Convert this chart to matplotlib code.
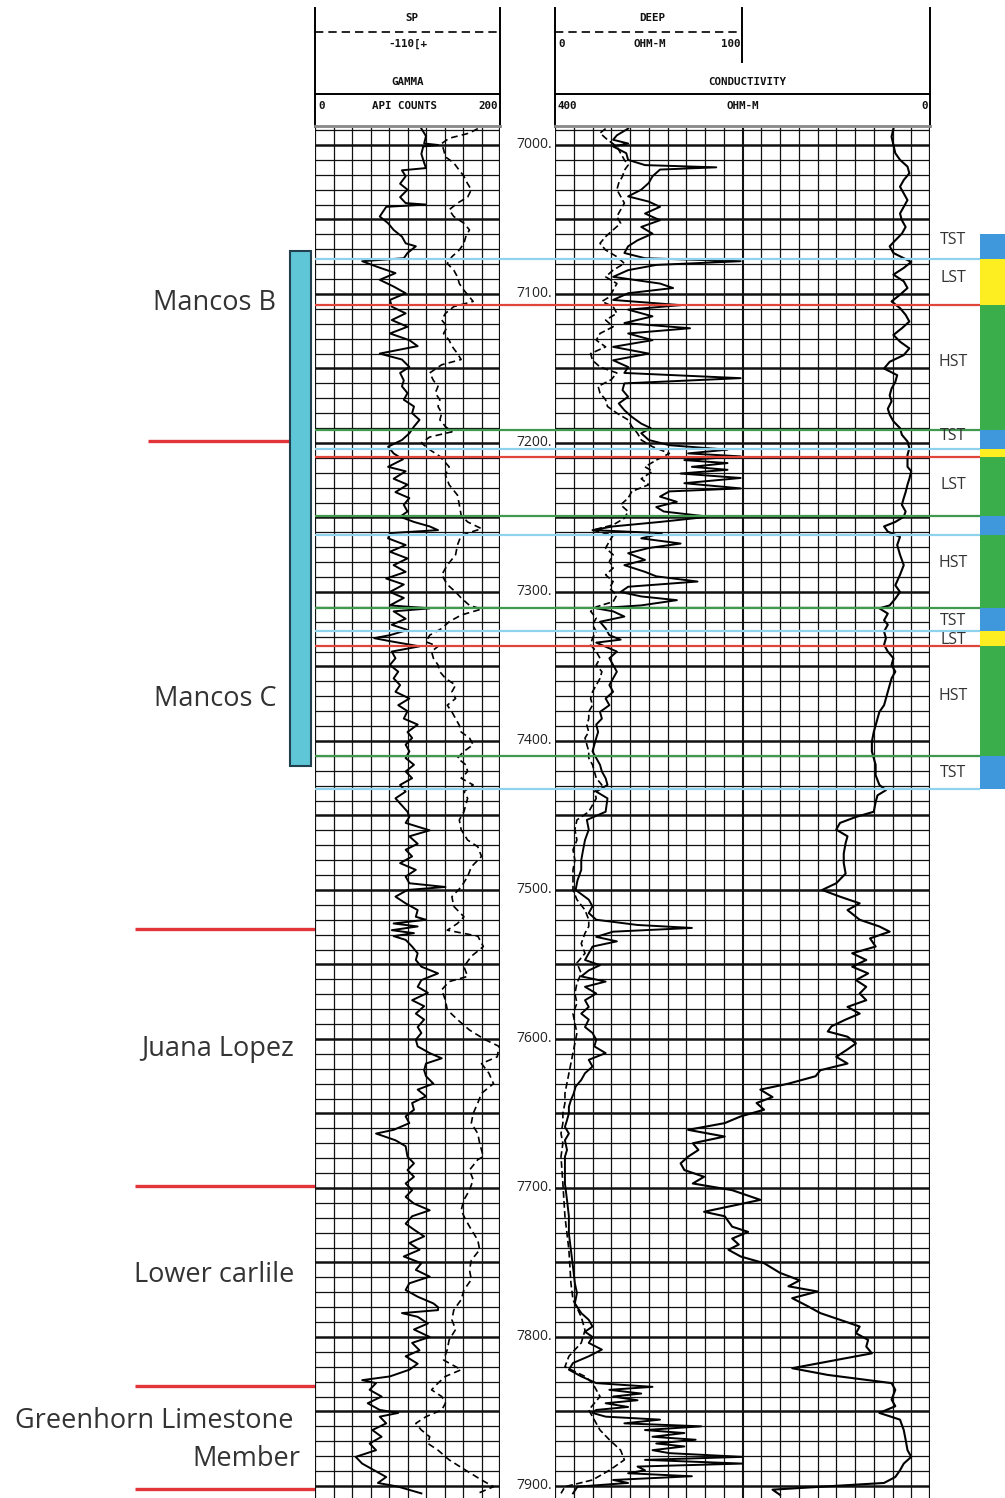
import numpy as np
import matplotlib.pyplot as plt

plt.rcParams['font.family'] = ['Open Sans', 'DejaVu Sans']

W, H = 1005, 1498
D_TOP, D_BOT = 6988.6, 7908.1

# ---- log curves (depth ft, value) ----
gamma = [(6989, 115), (6994, 120), (6999, 118), (7000, 133), (7001, 117), (7006, 115), (7012, 118),
         (7015.5, 120), (7017, 94), (7021, 98), (7026, 92), (7030, 100), (7035, 92), (7039, 98),
         (7040, 120), (7041.5, 77), (7048, 70), (7052.5, 79), (7057, 85), (7061.5, 94), (7066, 98),
         (7068, 109), (7072.5, 100), (7076, 96), (7078, 51), (7081.5, 66), (7086, 87), (7090.5, 70),
         (7095, 85), (7099.5, 98), (7104, 81), (7108.5, 83), (7113, 98), (7117.5, 83), (7122, 100),
         (7126.5, 81), (7131, 102), (7135, 111), (7140, 70), (7144, 94), (7149, 102), (7153, 92),
         (7158, 96), (7162, 94), (7166.5, 100), (7171, 96), (7175.5, 107), (7180, 105), (7184.5, 113),
         (7189, 107), (7193.5, 102), (7198, 94), (7202.5, 79), (7207, 85), (7211, 95), (7216, 79),
         (7219, 98), (7224, 85), (7228, 100), (7233, 87), (7237, 102), (7241.5, 96), (7246, 100),
         (7249.5, 92), (7253, 107), (7256, 124), (7258.5, 133), (7260.5, 81), (7264, 79), (7268.5, 98),
         (7273, 81), (7277.5, 100), (7282, 85), (7286.5, 98), (7291, 77), (7295, 96), (7300, 81),
         (7304, 96), (7309, 81), (7311, 124), (7313, 85), (7318, 98), (7322, 83), (7325.5, 100),
         (7329, 81), (7331, 64), (7333, 81), (7336.5, 113), (7340, 83), (7344.5, 87), (7349, 81),
         (7353.5, 90), (7358, 85), (7362.5, 92), (7367, 87), (7371.5, 102), (7376, 90), (7380, 100),
         (7385, 96), (7389, 111), (7394, 100), (7398, 105), (7402.5, 98), (7407, 102), (7411.5, 98),
         (7416, 107), (7420.5, 98), (7425, 105), (7429.5, 92), (7434, 98), (7438.5, 87), (7447.5, 100),
         (7451, 102), (7455, 98), (7460, 124), (7464, 102), (7469, 111), (7473, 98), (7477.5, 105),
         (7482, 92), (7486.5, 109), (7491, 98), (7495.5, 102), (7498, 141), (7500, 100), (7504.5, 87),
         (7509, 98), (7513.5, 111), (7518, 109), (7520, 120), (7522.5, 85), (7524.5, 111), (7527, 83),
         (7529, 107), (7531, 85), (7533.5, 98), (7538, 105), (7542.5, 111), (7547, 109), (7551.5, 115),
         (7556, 133), (7560.5, 115), (7565, 111), (7569, 122), (7574, 105), (7578, 118), (7583, 109),
         (7587, 118), (7592, 111), (7596, 115), (7600.5, 109), (7605, 111), (7609.5, 124), (7613, 137),
         (7616.5, 120), (7621, 118), (7625, 120), (7630, 128), (7634, 111), (7638.5, 120), (7643, 105),
         (7647.5, 107), (7652, 98), (7656.5, 102), (7661, 85), (7663.5, 66), (7668, 87), (7672, 98),
         (7679, 100), (7683.5, 107), (7688, 100), (7692.5, 107), (7697, 98), (7701.5, 105), (7706, 98),
         (7710.5, 107), (7715, 124), (7719, 105), (7724, 98), (7728, 107), (7732.5, 118), (7737, 102),
         (7741.5, 113), (7746, 96), (7750.5, 115), (7755, 109), (7759.5, 124), (7764, 102), (7768.5, 98),
         (7773, 111), (7777.5, 128), (7780, 133), (7782, 133), (7784, 94), (7786.5, 111), (7791, 122),
         (7795, 107), (7800, 124), (7804, 105), (7809, 113), (7813, 98), (7818, 111), (7822, 102),
         (7826.5, 81), (7829, 51), (7831, 66), (7835.5, 59), (7840, 72), (7844.5, 57), (7849, 70),
         (7851, 90), (7853.5, 70), (7858, 77), (7862.5, 62), (7867, 72), (7871.5, 59), (7876, 66),
         (7880.5, 44), (7885, 51), (7889.5, 64), (7894, 77), (7898, 68), (7900.5, 90), (7905, 115)]

sp = [(6989, 176), (6992, 167), (6995.5, 145), (6999, 137), (7003, 139), (7008, 141), (7012, 150),
      (7017, 156), (7021, 161), (7026, 165), (7030, 169), (7035, 165), (7039, 154), (7043.5, 145),
      (7048, 150), (7052.5, 161), (7057, 167), (7061.5, 163), (7066, 161), (7070.5, 156), (7075, 148),
      (7079.5, 143), (7084, 150), (7088.5, 154), (7093, 156), (7097.5, 161), (7102, 167), (7105, 171),
      (7108.5, 150), (7113, 141), (7117.5, 137), (7122, 143), (7126.5, 139), (7131, 145), (7135, 148),
      (7140, 154), (7144, 158), (7147.5, 137), (7153, 124), (7158, 128), (7162, 133), (7166.5, 130),
      (7171, 135), (7175.5, 133), (7180, 137), (7184.5, 135), (7189, 141), (7192.5, 148), (7196, 124),
      (7200, 115), (7204.5, 124), (7209, 135), (7216, 145), (7221.5, 141), (7228, 145), (7235, 154),
      (7241.5, 156), (7248.5, 158), (7253, 165), (7257.5, 180), (7262, 158), (7268.5, 154), (7275, 152),
      (7282, 143), (7288.5, 137), (7295, 143), (7300, 152), (7304, 158), (7309, 167), (7311.5, 180),
      (7315.5, 158), (7320, 145), (7324.5, 137), (7329, 124), (7333.5, 120), (7336.5, 133), (7340, 126),
      (7344.5, 128), (7349, 133), (7353.5, 135), (7358, 141), (7362.5, 152), (7367, 148), (7371.5, 152),
      (7376, 143), (7380.5, 148), (7385, 152), (7389.5, 156), (7394, 158), (7398, 167), (7402.5, 171),
      (7407, 161), (7411.5, 154), (7416, 163), (7420.5, 165), (7425, 158), (7429.5, 171), (7434, 161),
      (7438.5, 165), (7447.5, 161), (7453, 156), (7459.5, 158), (7466.5, 165), (7471, 176), (7477.5, 180),
      (7484.5, 169), (7491, 165), (7498, 158), (7504.5, 148), (7511, 150), (7518, 161), (7522.5, 154),
      (7527, 143), (7531, 176), (7538, 182), (7544.5, 169), (7551.5, 161), (7558, 165), (7561.5, 145),
      (7567, 137), (7574, 141), (7580.5, 143), (7587, 154), (7594, 167), (7600.5, 184), (7605, 199),
      (7612, 197), (7616.5, 180), (7623, 188), (7630, 193), (7636.5, 180), (7643, 176), (7650, 171),
      (7656.5, 169), (7663.5, 176), (7670, 178), (7679, 182), (7681, 176), (7688, 167), (7694.5, 171),
      (7701.5, 167), (7708, 161), (7715, 158), (7721.5, 163), (7728, 169), (7735, 176), (7741.5, 178),
      (7748.5, 169), (7755, 167), (7761.5, 169), (7768.5, 161), (7775, 158), (7782, 150), (7788.5, 148),
      (7795, 152), (7802, 145), (7808.5, 143), (7815.5, 139), (7822, 158), (7826.5, 141), (7831, 133),
      (7835.5, 126), (7840, 137), (7844.5, 141), (7849, 137), (7853.5, 120), (7858, 109), (7862.5, 115),
      (7867, 124), (7871.5, 122), (7876, 133), (7882.5, 145), (7889.5, 163), (7896, 180), (7900.5, 193),
      (7905, 176)]

deep = [(6989, 39), (6993.5, 33), (6996.5, 31), (6999, 39), (7001, 31), (7005.5, 38), (7010, 39),
        (7013.5, 48), (7015, 86), (7016.5, 56), (7021, 52), (7025.5, 50), (7030, 46), (7034.5, 39),
        (7038, 50), (7041.5, 56), (7046, 48), (7050.5, 56), (7055, 46), (7059.5, 52), (7064, 44),
        (7068, 39), (7072.5, 37), (7076, 48), (7078, 99), (7080.5, 54), (7084, 39), (7088.5, 31),
        (7093, 56), (7096, 63), (7099.5, 39), (7104, 31), (7107.5, 67), (7110.5, 39), (7115, 52),
        (7119.5, 37), (7123, 72), (7126.5, 39), (7131, 52), (7135.5, 31), (7140, 50), (7144.5, 31),
        (7149, 39), (7153, 37), (7156.5, 99), (7160, 37), (7164.5, 36), (7169, 39), (7173.5, 34),
        (7178, 37), (7182.5, 41), (7187, 46), (7190, 51), (7193.5, 46), (7198, 50), (7201.5, 61),
        (7204.5, 92), (7207, 71), (7209, 99), (7211.5, 69), (7213.5, 92), (7216, 73), (7218, 92),
        (7220.5, 67), (7223.5, 99), (7227, 69), (7230.5, 99), (7232.5, 61), (7236, 56), (7239.5, 65),
        (7243, 54), (7246, 58), (7249.5, 82), (7253, 56), (7256, 31), (7258.5, 20), (7260.5, 57),
        (7264, 46), (7267.5, 67), (7270.5, 50), (7274, 39), (7278.5, 48), (7282, 37), (7286.5, 48),
        (7289.5, 54), (7293, 76), (7296.5, 39), (7300, 35), (7303, 46), (7305.5, 65), (7309, 46),
        (7311, 22), (7313, 31), (7316.5, 37), (7320, 24), (7324.5, 27), (7329, 29), (7332, 35),
        (7334, 22), (7340, 33), (7344.5, 29), (7349, 31), (7353.5, 33), (7358, 31), (7362.5, 29),
        (7367, 31), (7371.5, 27), (7376, 29), (7380.5, 24), (7385, 25), (7389, 22), (7394, 23),
        (7398, 22), (7402.5, 21), (7407, 20), (7411.5, 22), (7416, 24), (7420.5, 25), (7425, 27),
        (7429.5, 28), (7434, 22), (7438.5, 28), (7447.5, 27), (7453, 17), (7459.5, 18), (7466.5, 16),
        (7473, 15), (7480, 14), (7486.5, 14), (7493.5, 12), (7500, 11), (7506.5, 18), (7511, 20),
        (7515.5, 18), (7520, 22), (7523.5, 44), (7525.5, 73), (7528, 31), (7531.5, 22), (7534.5, 33),
        (7538, 20), (7542.5, 18), (7547, 16), (7550.5, 24), (7554, 18), (7558, 14), (7561.5, 27),
        (7565, 16), (7569.5, 22), (7574, 16), (7578.5, 18), (7583, 14), (7587, 18), (7592, 16),
        (7596, 20), (7600.5, 22), (7605, 21), (7609.5, 27), (7614, 18), (7618.5, 20), (7623, 16),
        (7627.5, 14), (7632, 11), (7636.5, 10), (7641, 8.5), (7645.5, 7.4), (7650, 7.4), (7654.5, 6.4),
        (7659, 5.3), (7663.5, 7.4), (7668, 5.3), (7674.5, 6.4), (7679, 5.3), (7685.5, 5.3), (7697, 5.3),
        (7708, 6.4), (7719, 7.4), (7730.5, 7.4), (7741.5, 8.5), (7753, 9.6), (7764, 10.6), (7770.5, 11.7),
        (7777.5, 10.6), (7784, 14), (7788.5, 18), (7793, 20), (7796.5, 16), (7800, 20), (7804, 18),
        (7808.5, 25), (7813, 18), (7817.5, 9.6), (7822, 7.4), (7826.5, 14), (7831, 22), (7833.5, 52),
        (7835.5, 29), (7838, 46), (7840, 31), (7842.5, 44), (7844.5, 27), (7847, 39), (7849, 22),
        (7851, 20), (7853.5, 27), (7855.5, 56), (7858, 37), (7860, 78), (7862.5, 48), (7864.5, 69),
        (7867, 52), (7869, 75), (7871.5, 54), (7873.5, 69), (7876, 52), (7878, 61), (7880.5, 100),
        (7882.5, 48), (7885, 100), (7887, 44), (7889.5, 48), (7891.5, 39), (7893.5, 73), (7896, 31),
        (7898, 39), (7900.5, 12), (7905, 9.6)]

shallow = [(6989, 27), (6992, 24), (6996.5, 28), (7001, 33), (7005.5, 35), (7010, 37), (7013.5, 39),
           (7017, 37), (7021, 36), (7025.5, 34), (7030, 33), (7034.5, 35), (7039, 37), (7043.5, 35),
           (7048, 33), (7052.5, 35), (7057, 31), (7061.5, 27), (7066, 24), (7070.5, 27), (7075, 33),
           (7079.5, 37), (7084, 31), (7088.5, 27), (7093, 33), (7097.5, 31), (7102, 29), (7105, 25),
           (7108.5, 31), (7113, 33), (7117.5, 27), (7122, 31), (7126.5, 24), (7131, 22), (7135.5, 27),
           (7140, 19), (7144.5, 20), (7149, 24), (7153, 33), (7157.5, 30), (7162, 23), (7166.5, 24),
           (7171, 27), (7175.5, 28), (7180, 33), (7184.5, 39), (7189, 41), (7193.5, 44), (7198, 46),
           (7202.5, 52), (7207, 61), (7211.5, 54), (7216, 48), (7219, 52), (7224, 46), (7228, 50),
           (7232.5, 41), (7237, 39), (7241.5, 35), (7246, 39), (7250.5, 37), (7255, 31), (7258.5, 20),
           (7262, 31), (7266, 29), (7270.5, 27), (7275, 31), (7279.5, 29), (7284, 31), (7288.5, 27),
           (7293, 31), (7297.5, 29), (7302, 33), (7306.5, 31), (7310, 22), (7313, 19), (7317.5, 22),
           (7322, 20), (7326.5, 22), (7331, 20), (7335.5, 19), (7340, 22), (7344.5, 24), (7349, 22),
           (7353.5, 25), (7358, 24), (7362.5, 22), (7367, 20), (7371.5, 19), (7376, 20), (7380.5, 18),
           (7385, 18), (7389.5, 17), (7394, 18), (7398, 16), (7402.5, 17), (7407, 18), (7411.5, 18),
           (7416, 20), (7420.5, 21), (7425, 22), (7429.5, 25), (7434, 21), (7438.5, 22), (7447.5, 18),
           (7453, 11.7), (7459.5, 10.6), (7466.5, 11.7), (7473, 9.6), (7480, 10.6), (7486.5, 9.6),
           (7493.5, 9.6), (7500, 9.6), (7506.5, 11.7), (7513.5, 16), (7520, 18), (7524.5, 18), (7529, 16),
           (7536, 14), (7542.5, 16), (7549, 11.7), (7556, 14), (7562.5, 11.7), (7569.5, 10.6), (7576, 11.7),
           (7583, 9.6), (7589.5, 10.6), (7596, 11.7), (7603, 10.6), (7609.5, 9.6), (7616.5, 8.5),
           (7623, 7.4), (7629.5, 6.4), (7636.5, 5.3), (7643, 5.3), (7650, 4.2), (7656.5, 4.2), (7663.5, 3.2),
           (7670, 4.2), (7679, 3.2), (7697, 4.2), (7719, 5.3), (7741.5, 7.4), (7764, 8.5), (7775, 9.6),
           (7786.5, 14), (7795.5, 16), (7804, 14), (7813, 7.4), (7820, 5.3), (7826.5, 16), (7831, 20),
           (7840, 24), (7849, 18), (7853.5, 20), (7862.5, 24), (7869, 29), (7876, 35), (7882.5, 37),
           (7889.5, 29), (7896, 20), (7900.5, 5.3), (7905, 3.2)]

conductivity = [(6989, 39), (6994.5, 41), (7000, 39), (7005.5, 37), (7010, 32), (7014.5, 24), (7019, 22),
                (7023.5, 28), (7028, 32), (7032.5, 28), (7037, 24), (7041.5, 28), (7046, 32), (7050.5, 30),
                (7055, 26), (7059.5, 30), (7064, 37), (7068, 43), (7072.5, 39), (7076, 28), (7078.5, 20),
                (7082.5, 28), (7087, 39), (7091.5, 28), (7096, 24), (7100.5, 32), (7105, 41), (7109.5, 32),
                (7114, 26), (7118.5, 22), (7123, 30), (7127.5, 39), (7132, 32), (7136.5, 22), (7141, 28),
                (7145.5, 43), (7150, 49), (7154.5, 35), (7159, 37), (7163.5, 41), (7168, 43), (7172, 41),
                (7177, 45), (7181, 43), (7185.5, 39), (7190, 32), (7194.5, 30), (7199, 24), (7203.5, 22),
                (7208, 24), (7216, 24), (7219, 20), (7224, 22), (7228, 24), (7233, 26), (7237, 28),
                (7241.5, 30), (7246, 26), (7249.5, 28), (7253, 37), (7256, 49), (7259.5, 45), (7263, 32),
                (7268.5, 35), (7275, 32), (7282, 28), (7288.5, 32), (7295.5, 37), (7300, 32), (7304.5, 37),
                (7309, 43), (7311, 54), (7314.5, 45), (7319, 49), (7322, 45), (7326.5, 49), (7331, 47),
                (7335.5, 49), (7340, 45), (7344.5, 39), (7349, 41), (7353.5, 37), (7358, 41), (7362.5, 43),
                (7367, 45), (7371.5, 47), (7376, 49), (7380.5, 54), (7385, 56), (7389.5, 58), (7394, 60),
                (7400.5, 62), (7407, 62), (7411.5, 60), (7416, 58), (7423, 58), (7429.5, 54), (7433, 47),
                (7436.5, 56), (7441, 58), (7447.5, 60), (7451, 79), (7455, 96), (7459.5, 100), (7464, 88),
                (7468.5, 90), (7475.5, 92), (7482, 92), (7489, 90), (7495.5, 100), (7500, 115), (7504.5, 96),
                (7509, 75), (7513.5, 88), (7520, 75), (7524.5, 54), (7528, 43), (7532.5, 64), (7538, 58),
                (7542.5, 83), (7547, 68), (7551.5, 83), (7556, 66), (7560.5, 79), (7565, 68), (7569.5, 75),
                (7574, 68), (7578.5, 88), (7583, 75), (7587, 90), (7591.5, 105), (7595, 109), (7598.5, 88),
                (7603, 79), (7607, 88), (7612, 100), (7616.5, 88), (7621, 117), (7625, 122), (7630, 151),
                (7634, 181), (7639, 168), (7643, 185), (7647.5, 177), (7652, 202), (7656.5, 219), (7661, 258),
                (7663.5, 236), (7665.5, 219), (7670, 253), (7674.5, 247), (7679, 258), (7683.5, 266),
                (7688, 262), (7692.5, 241), (7697, 253), (7701.5, 211), (7708, 181), (7712.5, 215),
                (7716, 241), (7719, 219), (7726, 211), (7729.5, 194), (7734, 211), (7738, 204), (7741.5, 215),
                (7746, 202), (7750.5, 177), (7757, 160), (7762, 139), (7766, 151), (7769.5, 120), (7774, 147),
                (7779.5, 130), (7784, 117), (7788.5, 96), (7793, 75), (7797.5, 79), (7802, 66), (7806.5, 68),
                (7811, 62), (7815.5, 100), (7821, 147), (7825.5, 109), (7831, 41), (7835.5, 37), (7842, 41),
                (7846.5, 37), (7851, 54), (7855.5, 32), (7862.5, 28), (7869, 26), (7876, 24), (7880.5, 20),
                (7885, 28), (7889.5, 32), (7894, 37), (7898, 49), (7902.5, 168), (7906, 160)]

# ---- interpretation ----
surface_depth = [7076.5, 7107.4, 7191.3, 7204.0, 7209.4, 7249.0, 7261.7, 7310.7, 7326.2, 7336.2, 7410.1, 7432.2]
surface_kind = ['ts', 'sb', 'mfs', 'ts', 'sb', 'mfs', 'ts', 'mfs', 'ts', 'sb', 'mfs', 'ts']

seq_top = [7059.7, 7076.5, 7107.4, 7191.3, 7204.0, 7209.4, 7249.0, 7261.7, 7310.7, 7326.2, 7336.2, 7410.1]
seq_base = [7076.5, 7107.4, 7191.3, 7204.0, 7209.4, 7249.0, 7261.7, 7310.7, 7326.2, 7336.2, 7410.1, 7432.2]
seq_fill = ['TST', 'LST', 'HST', 'TST', 'LST', 'HST', 'TST', 'HST', 'TST', 'LST', 'HST', 'TST']
seq_names = ['TST', 'LST', 'HST', 'TST', 'LST', 'HST', 'TST', 'LST', 'HST', 'TST']
seq_name_depth = [7063.8, 7089.3, 7145.6, 7195.3, 7228.2, 7280.5, 7319.5, 7332.2, 7369.8, 7421.5]

formation_tops = [7198.7, 7526.2, 7698.7, 7832.9, 7902.0]
formation_names = ['Mancos B', 'Mancos C', 'Juana Lopez', 'Lower carlile', 'Greenhorn Limestone', 'Member']
formation_name_depth = [7106, 7371.8, 7606.7, 7758.4, 7856.4, 7881.9]
mancos_top, mancos_base = 7071.1, 7416.8

line_col = {'ts': '#8fd2ee', 'sb': '#e0453c', 'mfs': '#3f9a4f'}
fill_col = {'TST': '#3f97dc', 'LST': '#fdee21', 'HST': '#3aae4a'}


def rect(x0, y0, x1, y1):
    return [x0 / W, 1 - y1 / H, (x1 - x0) / W, (y1 - y0) / H]


def unzip(pairs):
    a = np.array(pairs, dtype=float)
    return a[:, 0], a[:, 1]


def track_grid(ax, ncol):
    ax.set_ylim(D_BOT, D_TOP)
    for d in range(6990, 7910, 10):
        ax.axhline(d, color='#111111', lw=1.8 if d % 50 == 0 else 0.9, zorder=1)
    x0, x1 = ax.get_xlim()
    for i in range(ncol + 1):
        ax.axvline(x0 + (x1 - x0) * i / ncol, color='#111111',
                   lw=1.6 if i in (0, ncol) else (1.5 if i == ncol // 2 and ncol == 20 else 0.9), zorder=1)
    ax.set_xticks([])
    ax.set_yticks([])
    for s in ax.spines.values():
        s.set_visible(False)


fig = plt.figure(figsize=(W / 100, H / 100), dpi=100)

# left track: gamma + SP
ax_l = fig.add_axes(rect(315, 128, 500, H))
ax_l.set_xlim(0, 200)
track_grid(ax_l, 10)
d, v = unzip(gamma)
ax_l.plot(v, d, color='black', lw=1.4, zorder=3)
d, v = unzip(sp)
ax_l.plot(v, d, color='black', lw=1.2, ls=(0, (4, 2.5)), zorder=3)

# depth column
ax_d = fig.add_axes(rect(500, 128, 555, H))
ax_d.set_ylim(D_BOT, D_TOP)
ax_d.set_xlim(0, 1)
ax_d.axis('off')
for dep in range(7000, 7901, 100):
    ax_d.text(0.95, dep, f'{dep}.', ha='right', va='center', fontsize=10, color='#222222')

# right track: resistivity + conductivity
ax_r = fig.add_axes(rect(555, 128, 930, H))
ax_r.set_xlim(0, 200)
track_grid(ax_r, 20)
d, v = unzip(deep)
ax_r.plot(v, d, color='black', lw=1.4, zorder=3)
d, v = unzip(shallow)
ax_r.plot(v, d, color='black', lw=1.2, ls=(0, (4, 2)), zorder=3)
ax_c = ax_r.twiny()
ax_c.set_xlim(400, 0)
ax_c.set_ylim(D_BOT, D_TOP)
ax_c.set_axis_off()
d, v = unzip(conductivity)
ax_c.plot(v, d, color='black', lw=1.5, zorder=3)

# header
ax_h = fig.add_axes(rect(300, 0, 945, 128))
ax_h.set_xlim(300, 945)
ax_h.set_ylim(128, 0)
ax_h.axis('off')
hk = dict(color='black', lw=1.4)
for x in (315, 500, 555, 930):
    ax_h.plot([x, x], [8, 128], **hk)
ax_h.plot([742, 742], [8, 62], **hk)
ax_h.plot([315, 500], [32, 32], color='black', lw=1.2, ls=(0, (5, 3)))
ax_h.plot([555, 742], [32, 32], color='black', lw=1.2, ls=(0, (5, 3)))
ax_h.plot([315, 500], [94, 94], **hk)
ax_h.plot([555, 930], [94, 94], **hk)
ax_h.plot([315, 500], [126, 126], color='#888888', lw=2)
ax_h.plot([555, 930], [126, 126], color='#888888', lw=2)
hf = dict(family='DejaVu Sans Mono', fontweight='bold', fontsize=7.8, va='center', color='#111111')
ax_h.text(412, 18, 'SP', ha='center', **hf)
ax_h.text(408, 44, '-110[+', ha='center', **hf)
ax_h.text(408, 82, 'GAMMA', ha='center', **hf)
ax_h.text(318, 106, '0', ha='left', **hf)
ax_h.text(405, 106, 'API COUNTS', ha='center', **hf)
ax_h.text(498, 106, '200', ha='right', **hf)
ax_h.text(652, 18, 'DEEP', ha='center', **hf)
ax_h.text(558, 44, '0', ha='left', **hf)
ax_h.text(650, 44, 'OHM-M', ha='center', **hf)
ax_h.text(740, 44, '100', ha='right', **hf)
ax_h.text(747, 82, 'CONDUCTIVITY', ha='center', **hf)
ax_h.text(558, 106, '400', ha='left', **hf)
ax_h.text(743, 106, 'OHM-M', ha='center', **hf)
ax_h.text(928, 106, '0', ha='right', **hf)

# sequence surfaces across the tracks
ax_o = fig.add_axes(rect(315, 128, 980, H))
ax_o.set_xlim(0, 1)
ax_o.set_ylim(D_BOT, D_TOP)
ax_o.axis('off')
for dep, kind in zip(surface_depth, surface_kind):
    ax_o.axhline(dep, color=line_col[kind], lw=1.6, zorder=5)

# systems tract column
ax_s = fig.add_axes(rect(930, 128, 1005, H))
ax_s.set_xlim(930, 1005)
ax_s.set_ylim(D_BOT, D_TOP)
ax_s.axis('off')
ax_s.barh(seq_top, 25, left=980, height=np.array(seq_base) - np.array(seq_top), align='edge',
          color=[fill_col[k] for k in seq_fill], lw=0)
for name, dep in zip(seq_names, seq_name_depth):
    ax_s.text(953, dep, name, ha='center', va='center', fontsize=11.5, color='#333333')

# formations
ax_f = fig.add_axes(rect(0, 128, 315, H))
ax_f.set_xlim(0, 315)
ax_f.set_ylim(D_BOT, D_TOP)
ax_f.axis('off')
ax_f.barh(mancos_top, 21, left=290, height=mancos_base - mancos_top, align='edge',
          color='#5ec6d7', edgecolor='#22404d', lw=1.5, zorder=3)
ax_f.hlines(formation_tops[0], 148, 290, color='#e3343a', lw=2.4)
ax_f.hlines(formation_tops[1:], 135, 315, color='#e3343a', lw=2.4)
name_x = [276, 276, 294, 294, 293, 300]
for name, dep, x in zip(formation_names, formation_name_depth, name_x):
    ax_f.text(x, dep, name, ha='right', va='center', fontsize=19.5, color='#333333')

fig.savefig('out.png', dpi=100, facecolor='white')
